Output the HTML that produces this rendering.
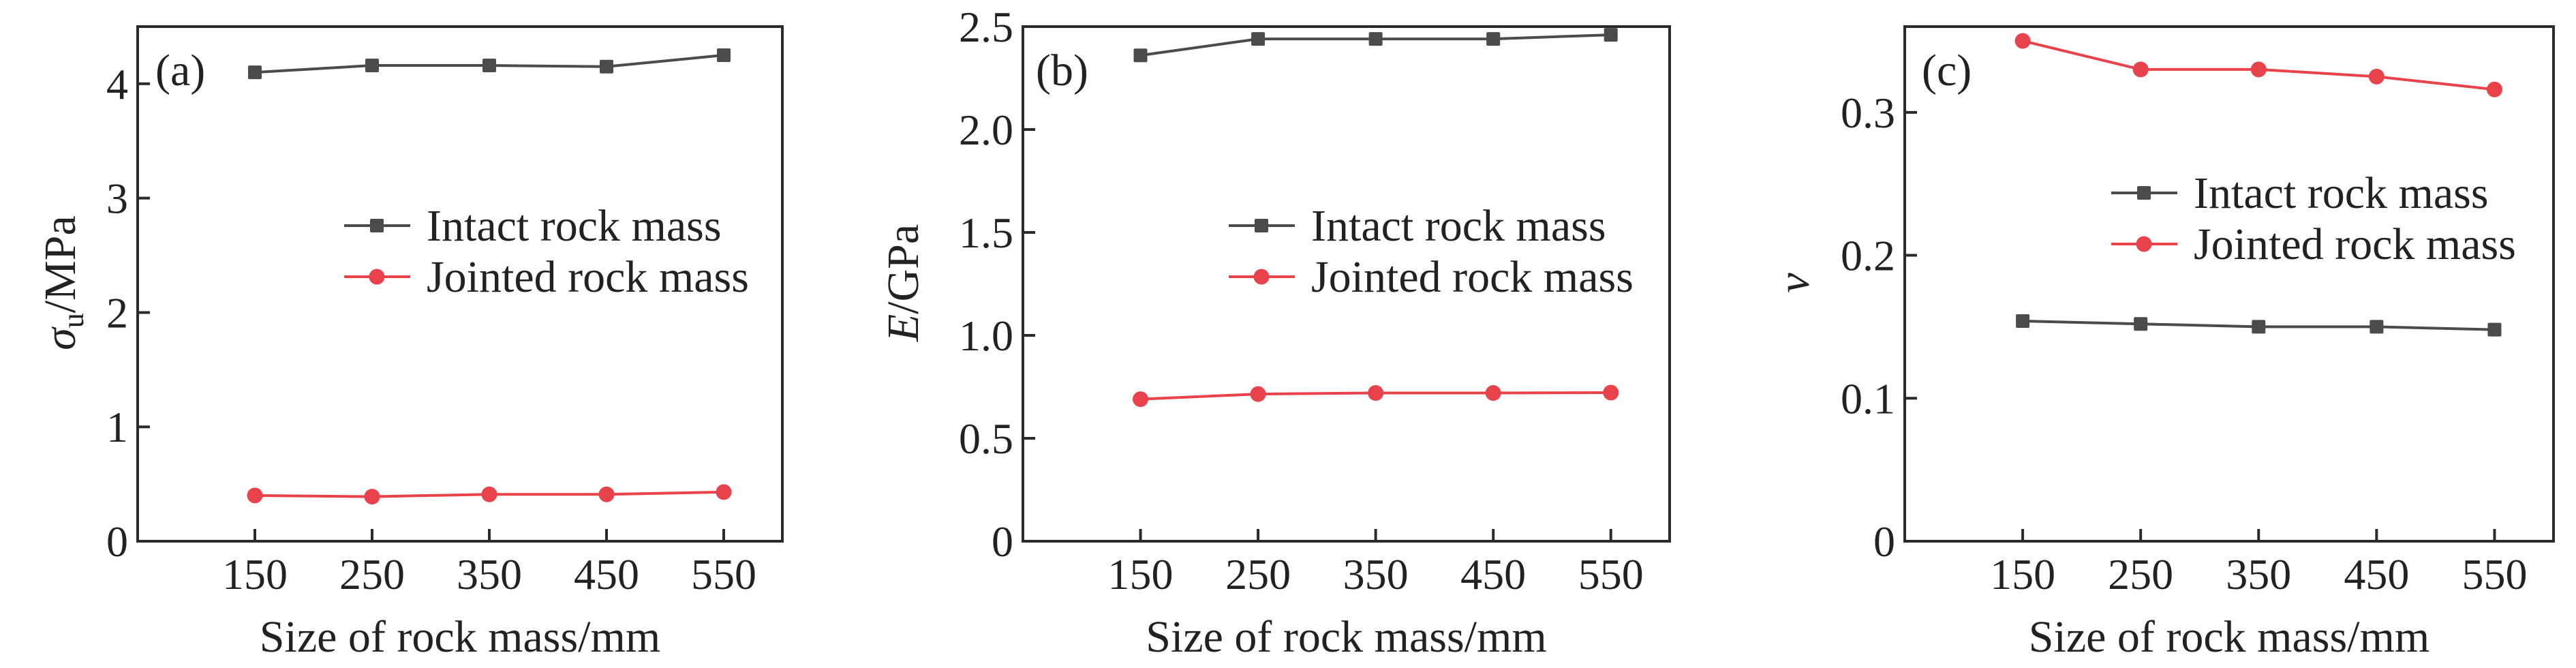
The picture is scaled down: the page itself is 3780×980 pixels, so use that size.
<!DOCTYPE html>
<html><head><meta charset="utf-8"><style>
html,body{margin:0;padding:0;background:#fff;}
svg{display:block;font-family:"Liberation Serif",serif;}
</style></head><body>
<svg id="fig" width="3780" height="980" viewBox="0 0 3780 980" xmlns="http://www.w3.org/2000/svg"></svg>
<script>
const categories = [150, 250, 350, 450, 550];
const xTicks = ["150", "250", "350", "450", "550"];
const intactA = [4.10, 4.16, 4.16, 4.15, 4.25];
const jointedA = [0.40, 0.39, 0.41, 0.41, 0.43];
const intactB = [2.36, 2.44, 2.44, 2.44, 2.46];
const jointedB = [0.69, 0.715, 0.72, 0.72, 0.722];
const intactC = [0.154, 0.152, 0.150, 0.150, 0.148];
const jointedC = [0.350, 0.330, 0.330, 0.325, 0.316];
const yTicksA = [0, 1, 2, 3, 4];
const yTickLabelsA = ["0", "1", "2", "3", "4"];
const yTicksB = [0, 0.5, 1.0, 1.5, 2.0, 2.5];
const yTickLabelsB = ["0", "0.5", "1.0", "1.5", "2.0", "2.5"];
const yTicksC = [0, 0.1, 0.2, 0.3];
const yTickLabelsC = ["0", "0.1", "0.2", "0.3"];

const NS = "http://www.w3.org/2000/svg";
const svg = document.getElementById("fig");
const GRAY = "#4b4b4b", RED = "#e8434a";
function mk(tag, attrs, parent) {
  const e = document.createElementNS(NS, tag);
  for (const k in attrs) e.setAttribute(k, attrs[k]);
  (parent || svg).appendChild(e);
  return e;
}
const panels = [
  {id:"a", L:202, R:1148, ymax:4.5, ticks:yTicksA, labels:yTickLabelsA, intact:intactA, jointed:jointedA, legX:505, legY:[331,406], ytx:88, lab:"(a)", labX:228},
  {id:"b", L:1501, R:2450, ymax:2.5, ticks:yTicksB, labels:yTickLabelsB, intact:intactB, jointed:jointedB, legX:1803, legY:[331,406], ytx:1325, lab:"(b)", labX:1520},
  {id:"c", L:2795, R:3747, ymax:0.36, ticks:yTicksC, labels:yTickLabelsC, intact:intactC, jointed:jointedC, legX:3098, legY:[283,358], ytx:2632, lab:"(c)", labX:2820}
];
const T = 39, B = 794;
panels.forEach(p => {
  const g = mk("g", {});
  
  
  const xs = v => p.L + (v - 50) / 550 * (p.R - p.L);
  const ys = v => B - v / p.ymax * (B - T);
  const frame = mk("rect", {x:p.L, y:T, width:p.R-p.L, height:B-T, fill:"none", stroke:"#2b2b2b", "stroke-width":4}, g);
  
  
  categories.forEach((c, i) => {
    const x = xs(c);
    const t = mk("line", {x1:x, x2:x, y1:B, y2:B-18, stroke:"#2b2b2b", "stroke-width":4}, g);
    
    
    const tl = mk("text", {x:x, y:864, "font-size":64, "text-anchor":"middle", fill:"#222"}, g);
    tl.textContent = xTicks[i];
    
    
  });
  p.ticks.forEach((v, i) => {
    const y = ys(v);
    const t = mk("line", {x1:p.L, x2:p.L+18, y1:y, y2:y, stroke:"#2b2b2b", "stroke-width":4}, g);
    
    
    const tl = mk("text", {x:p.L-14, y:y+22, "font-size":64, "text-anchor":"end", fill:"#222"}, g);
    tl.textContent = p.labels[i];
    
    
  });
  const xt = mk("text", {x:(p.L+p.R)/2, y:956, "font-size":66, "text-anchor":"middle", fill:"#222"}, g);
  xt.textContent = "Size of rock mass/mm";
  
  
  const yt = mk("text", {x:0, y:0, "font-size":66, "text-anchor":"middle", fill:"#222", transform:`translate(${p.ytx+22},415) rotate(-90)`}, g);
  if (p.id === "a") yt.innerHTML = '<tspan font-style="italic">σ</tspan><tspan font-size="44" dy="12">u</tspan><tspan dy="-12">/MPa</tspan>';
  else if (p.id === "b") yt.innerHTML = '<tspan font-style="italic">E</tspan>/GPa';
  else yt.innerHTML = '<tspan font-style="italic">ν</tspan>';
  
  
  const pl = mk("text", {x:p.labX, y:125, "font-size":66, fill:"#222"}, g);
  pl.textContent = p.lab;
  
  
  [[p.intact, GRAY, "sq", "intact"], [p.jointed, RED, "ci", "jointed"]].forEach(([vals, col, m, nm]) => {
    const pts = vals.map((v, i) => xs(categories[i]) + "," + ys(v)).join(" ");
    const ln = mk("polyline", {points:pts, fill:"none", stroke:col, "stroke-width":4}, g);
    
    
    vals.forEach((v, i) => {
      const x = xs(categories[i]), y = ys(v);
      const mkr = m === "sq" ? mk("rect", {x:x-10, y:y-10, width:20, height:20, rx:2, fill:col}, g)
                             : mk("circle", {cx:x, cy:y, r:11.5, fill:col}, g);
      
      
    });
  });
  [["Intact rock mass", GRAY, "sq"], ["Jointed rock mass", RED, "ci"]].forEach(([txt, col, m], k) => {
    const y = p.legY[k];
    const lg = mk("g", {}, g);
    
    
    mk("line", {x1:p.legX, x2:p.legX+97, y1:y, y2:y, stroke:col, "stroke-width":4}, lg);
    const cx = p.legX + 48;
    if (m === "sq") mk("rect", {x:cx-10, y:y-10, width:20, height:20, rx:2, fill:col}, lg);
    else mk("circle", {cx:cx, cy:y, r:11.5, fill:col}, lg);
    const t = mk("text", {x:p.legX+121, y:y+22, "font-size":66, fill:"#222"}, lg);
    t.textContent = txt;
  });
});
</script>
</body></html>
